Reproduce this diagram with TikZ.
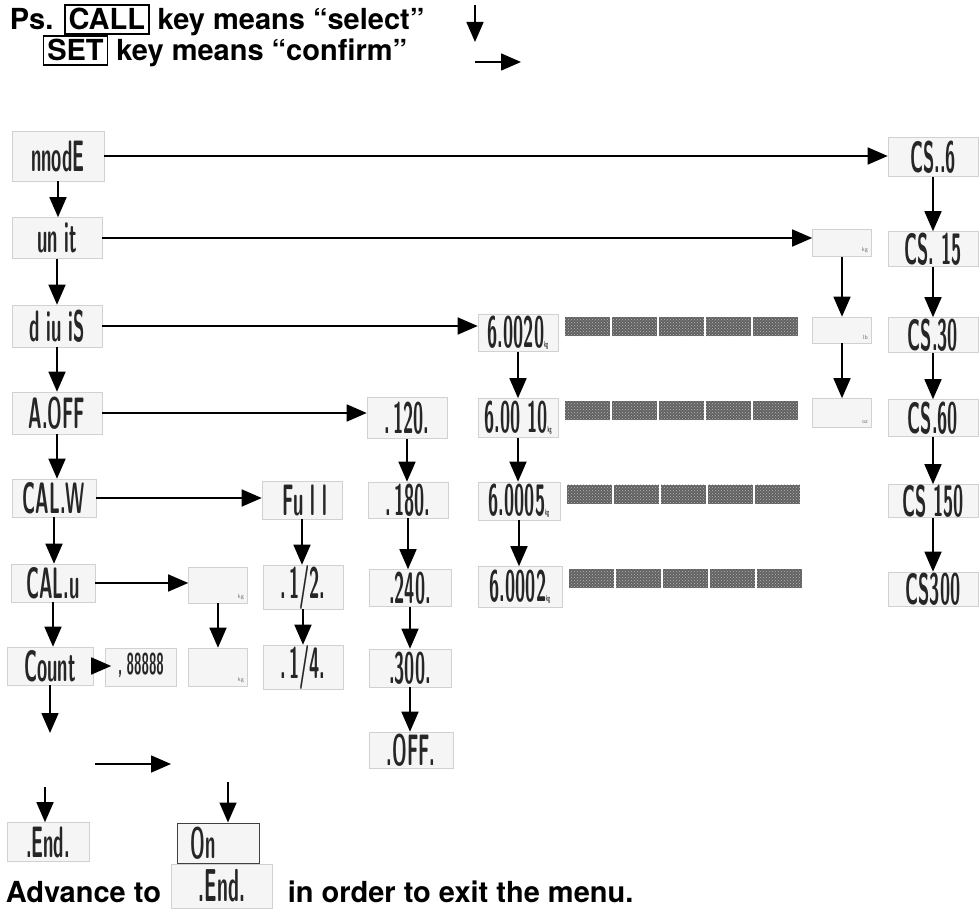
\documentclass[tikz,border=0pt]{standalone}
\usepackage{fontspec}
\usepackage{graphicx}
\newfontfamily\headfont{TeX Gyre Heros}
\usetikzlibrary{arrows.meta,patterns}

\newcommand{\lcd}[1]{\scalebox{0.42}[1]{\fontsize{44}{44}\selectfont\sffamily\bfseries #1}}
\newcommand{\lcdsm}[1]{\raisebox{7pt}{\scalebox{0.45}[1]{\fontsize{30}{30}\selectfont\sffamily\bfseries #1}}}
\newcommand{\kg}{{\fontsize{9}{9}\selectfont kg}}
\newcommand{\keybox}[1]{{\setlength{\fboxsep}{3pt}\setlength{\fboxrule}{1.5pt}\fbox{#1}}}

\tikzset{
  lcd/.style={draw=black!18,fill=black!4,line width=0.6pt,inner sep=0pt,
    minimum width=84pt,minimum height=38pt,text=black!85},
  blank/.style={lcd,minimum width=59pt,minimum height=36pt},
  kgtag/.style={anchor=south east,inner sep=3pt,text=black!55,
    font=\sffamily\fontsize{6}{6}\selectfont},
  scroll/.style={fill=black!62,inner sep=0pt,minimum width=45pt,
    minimum height=19pt,anchor=north west,
    postaction={pattern=crosshatch dots,pattern color=black!28}},
  note/.style={font=\headfont\bfseries\fontsize{29}{34}\selectfont,
    inner sep=0pt,anchor=base west},
}

\begin{document}
\begin{tikzpicture}[x=1pt,y=-1pt,line width=1.6pt,>={Triangle[length=20pt,width=17pt]}]
\useasboundingbox (0,0) rectangle (980,912);
% legend
\node[note] (l1) at (9,30) {Ps. \keybox{CALL} key means “select”};
\node[note] (l2) at (42,61) {\keybox{SET} key means “confirm”};
\coordinate (va) at (475,5);
\coordinate (vb) at (475,42);
\coordinate (ha) at (475,62);
\coordinate (hb) at (521,62);
\draw[->] (va)--(vb);
\draw[->] (ha)--(hb);
% main column
\node[lcd,minimum width=92pt,minimum height=50pt] (md) at (58,156) {\lcd{nnodE}};
\node[lcd,minimum width=90pt,minimum height=41pt] (un) at (57,238) {\lcd{un it}};
\node[lcd,minimum width=90pt,minimum height=42pt] (dv) at (57,326) {\lcd{d iu iS}};
\node[lcd,minimum width=90pt,minimum height=42pt] (ao) at (57,413) {\lcd{A.OFF}};
\node[lcd] (cw) at (54,498) {\lcd{CAL.W}};
\node[lcd] (cu) at (53,583) {\lcd{CAL.u}};
\node[lcd,minimum width=86pt] (ct) at (50,666) {\lcd{Count}};
\node[lcd,minimum width=82pt,minimum height=39pt] (en) at (48,842) {\lcd{.End.}};
\node[lcd,draw=black!75,line width=1pt,minimum width=82pt,minimum height=40pt] (on) at (218,843) {\lcd{On\hspace{70pt}}};
% calibration branches
\node[lcd,minimum width=71pt] (b8) at (141,667) {\lcdsm{,\,\,88888}};
\node[blank] (kga) at (218,585) {};
\node[kgtag] (kgat) at (kga.south east) {kg};
\node[blank,minimum height=38pt] (kgb) at (218,667) {};
\node[kgtag] (kgbt) at (kgb.south east) {kg};
\node[lcd,minimum width=80pt] (fu) at (302,500) {\lcd{\hspace{14pt}Fu l l}};
\node[lcd,minimum width=80pt,minimum height=39pt] (h12) at (303,587) {\lcd{.\,1/2.}};
\node[lcd,minimum width=80pt] (h14) at (303,667) {\lcd{.\,1/4.}};
% auto off
\node[lcd,minimum width=80pt,minimum height=41pt] (t120) at (407,418) {\lcd{.\,120.}};
\node[lcd,minimum width=80pt,minimum height=36pt] (t180) at (408,500) {\lcd{.\,180.}};
\node[lcd,minimum width=82pt,minimum height=37pt] (t240) at (410,588) {\lcd{.240.}};
\node[lcd,minimum width=82pt] (t300) at (410,668) {\lcd{.300.}};
\node[lcd,minimum width=84pt,minimum height=36pt] (toff) at (411,750) {\lcd{.OFF.}};
% division
\node[lcd,minimum width=80pt,minimum height=37pt] (d20) at (518,333) {\lcd{6.0020\kg}};
\node[lcd,minimum width=80pt,minimum height=39pt] (d10) at (518,418) {\lcd{6.00 10\kg}};
\node[lcd,minimum width=82pt] (d05) at (519,501) {\lcd{6.0005\kg}};
\node[lcd,minimum width=84pt,minimum height=41pt] (d02) at (520,587) {\lcd{6.0002\kg}};
\foreach \n in {d20,d10,d05,d02}
  \foreach \i in {0,...,4}
    \node[scroll] (\n s\i) at ([xshift={6pt+\i*47pt},yshift=-2pt]\n.north east) {};
% unit
\node[blank,minimum height=27pt] (kg1) at (842,243) {};
\node[kgtag] (kg1t) at (kg1.south east) {kg};
\node[blank,minimum height=26pt] (kg2) at (842,330) {};
\node[kgtag] (kg2t) at (kg2.south east) {lb};
\node[blank,minimum height=29pt] (kg3) at (842,413) {};
\node[kgtag] (kg3t) at (kg3.south east) {oz};
% mode
\node[lcd,minimum width=90pt,minimum height=39pt] (cs6) at (933,157) {\lcd{CS..6}};
\node[lcd,minimum width=90pt,minimum height=35pt] (cs15) at (933,249) {\lcd{CS. 15}};
\node[lcd,minimum width=90pt,minimum height=35pt] (cs30) at (933,335) {\lcd{CS.30}};
\node[lcd,minimum width=90pt,minimum height=37pt] (cs60) at (933,418) {\lcd{CS.60}};
\node[lcd,minimum width=90pt,minimum height=33pt] (cs150) at (933,501) {\lcd{CS 150}};
\node[lcd,minimum width=90pt,minimum height=34pt] (cs300) at (933,589) {\lcd{CS300}};
% bottom line
\node[note] (adv) at (5,902) {Advance to};
\node[lcd,minimum width=101pt,minimum height=44pt] (enx) at (222,886) {\scalebox{1.05}{\lcd{.End.}}};
\node[note] (rest) at (287,902) {in order to exit the menu.};
% connectors
\draw[->] (md.east)--(md.east -| cs6.west);
\draw[->] (un.east)--(un.east -| kg1.west);
\draw[->] (dv.east)--(dv.east -| d20.west);
\draw[->] (ao.east)--(ao.east -| t120.west);
\draw[->] (cw.east)--(cw.east -| fu.west);
\draw[->] (cu.east)--(cu.east -| kga.west);
\draw[->] (ct.east)--([xshift=6pt]ct.east -| b8.west);
\draw[->] (md.south)--(md.south |- un.north);
\draw[->] (un.south)--(un.south |- dv.north);
\draw[->] (dv.south)--(dv.south |- ao.north);
\draw[->] (ao.south)--(ao.south |- cw.north);
\draw[->] (cw.south)--(cw.south |- cu.north);
\draw[->] (cu.south)--(cu.south |- ct.north);
\coordinate (ctd) at (53,733);
\draw[->] (ct.south)--(ct.south |- ctd);
\coordinate (ga) at (95,764);
\coordinate (gb) at (171,764);
\draw[->] (ga)--(gb);
\coordinate (e1) at (45,787);
\draw[->] (e1)--(e1 |- en.north);
\coordinate (o1) at (228,782);
\draw[->] (o1)--(o1 |- on.north);
\draw[->] (kga.south)--(kga.south |- kgb.north);
\draw[->] (fu.south)--(fu.south |- h12.north);
\draw[->] (h12.south)--(h12.south |- h14.north);
\draw[->] (t120.south)--(t120.south |- t180.north);
\draw[->] (t180.south)--(t180.south |- t240.north);
\draw[->] (t240.south)--(t240.south |- t300.north);
\draw[->] (t300.south)--(t300.south |- toff.north);
\draw[->] (d20.south)--(d20.south |- d10.north);
\draw[->] (d10.south)--(d10.south |- d05.north);
\draw[->] (d05.south)--(d05.south |- d02.north);
\draw[->] (kg1.south)--(kg1.south |- kg2.north);
\draw[->] (kg2.south)--(kg2.south |- kg3.north);
\draw[->] (cs6.south)--(cs6.south |- cs15.north);
\draw[->] (cs15.south)--(cs15.south |- cs30.north);
\draw[->] (cs30.south)--(cs30.south |- cs60.north);
\draw[->] (cs60.south)--(cs60.south |- cs150.north);
\draw[->] (cs150.south)--(cs150.south |- cs300.north);
\end{tikzpicture}
\end{document}
